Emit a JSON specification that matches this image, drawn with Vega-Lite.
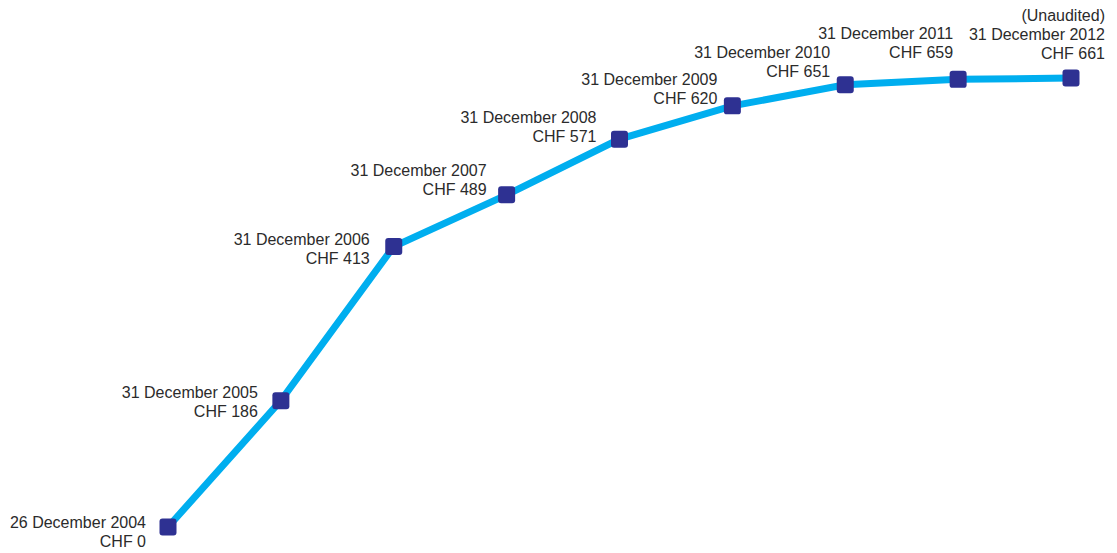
{
  "$schema": "https://vega.github.io/schema/vega-lite/v6.json",
  "width": 903,
  "height": 449,
  "autosize": {"type": "none"},
  "padding": {"left": 168, "top": 78, "right": 46, "bottom": 26},
  "background": "white",
  "config": {"view": {"stroke": null}},
  "data": {
    "values": [
      {"year": 2004, "value": 0, "label": ["26 December 2004", "CHF 0"]},
      {"year": 2005, "value": 186, "label": ["31 December 2005", "CHF 186"]},
      {"year": 2006, "value": 413, "label": ["31 December 2006", "CHF 413"]},
      {"year": 2007, "value": 489, "label": ["31 December 2007", "CHF 489"]},
      {"year": 2008, "value": 571, "label": ["31 December 2008", "CHF 571"]},
      {"year": 2009, "value": 620, "label": ["31 December 2009", "CHF 620"]},
      {"year": 2010, "value": 651, "label": ["31 December 2010", "CHF 651"]},
      {"year": 2011, "value": 659, "label": ["31 December 2011", "CHF 659"]},
      {"year": 2012, "value": 661, "label": ["(Unaudited)", "31 December 2012", "CHF 661"]}
    ]
  },
  "encoding": {
    "x": {"field": "year", "type": "quantitative", "scale": {"domain": [2004, 2012], "nice": false, "zero": false}, "axis": null},
    "y": {"field": "value", "type": "quantitative", "scale": {"domain": [0, 661], "nice": false}, "axis": null}
  },
  "layer": [
    {"mark": {"type": "line", "color": "#00AEEF", "strokeWidth": 7, "clip": false}},
    {"mark": {"type": "point", "filled": true, "opacity": 1, "color": "#2E3192", "size": 289, "clip": false,
      "shape": "M -0.65 -1 L 0.65 -1 Q 1 -1 1 -0.65 L 1 0.65 Q 1 1 0.65 1 L -0.65 1 Q -1 1 -1 0.65 L -1 -0.65 Q -1 -1 -0.65 -1 Z"}},
    {"transform": [{"filter": "datum.year == 2004"}], "mark": {"type": "text", "align": "right", "baseline": "alphabetic", "dx": -22, "dy": 1, "font": "Liberation Sans", "fontSize": 16, "lineHeight": 19, "color": "#2b2b2b"}, "encoding": {"text": {"field": "label"}}},
    {"transform": [{"filter": "datum.year == 2005"}], "mark": {"type": "text", "align": "right", "baseline": "alphabetic", "dx": -23, "dy": -3, "font": "Liberation Sans", "fontSize": 16, "lineHeight": 19, "color": "#2b2b2b"}, "encoding": {"text": {"field": "label"}}},
    {"transform": [{"filter": "datum.year == 2006"}], "mark": {"type": "text", "align": "right", "baseline": "alphabetic", "dx": -24, "dy": -1, "font": "Liberation Sans", "fontSize": 16, "lineHeight": 19, "color": "#2b2b2b"}, "encoding": {"text": {"field": "label"}}},
    {"transform": [{"filter": "datum.year == 2007"}], "mark": {"type": "text", "align": "right", "baseline": "alphabetic", "dx": -20, "dy": -19, "font": "Liberation Sans", "fontSize": 16, "lineHeight": 19, "color": "#2b2b2b"}, "encoding": {"text": {"field": "label"}}},
    {"transform": [{"filter": "datum.year == 2008"}], "mark": {"type": "text", "align": "right", "baseline": "alphabetic", "dx": -23, "dy": -16, "font": "Liberation Sans", "fontSize": 16, "lineHeight": 19, "color": "#2b2b2b"}, "encoding": {"text": {"field": "label"}}},
    {"transform": [{"filter": "datum.year == 2009"}], "mark": {"type": "text", "align": "right", "baseline": "alphabetic", "dx": -15, "dy": -21, "font": "Liberation Sans", "fontSize": 16, "lineHeight": 19, "color": "#2b2b2b"}, "encoding": {"text": {"field": "label"}}},
    {"transform": [{"filter": "datum.year == 2010"}], "mark": {"type": "text", "align": "right", "baseline": "alphabetic", "dx": -15, "dy": -27, "font": "Liberation Sans", "fontSize": 16, "lineHeight": 19, "color": "#2b2b2b"}, "encoding": {"text": {"field": "label"}}},
    {"transform": [{"filter": "datum.year == 2011"}], "mark": {"type": "text", "align": "right", "baseline": "alphabetic", "dx": -5, "dy": -40, "font": "Liberation Sans", "fontSize": 16, "lineHeight": 19, "color": "#2b2b2b"}, "encoding": {"text": {"field": "label"}}},
    {"transform": [{"filter": "datum.year == 2012"}], "mark": {"type": "text", "align": "right", "baseline": "alphabetic", "dx": 34, "dy": -57, "font": "Liberation Sans", "fontSize": 16, "lineHeight": 19, "color": "#2b2b2b"}, "encoding": {"text": {"field": "label"}}}
  ]
}
